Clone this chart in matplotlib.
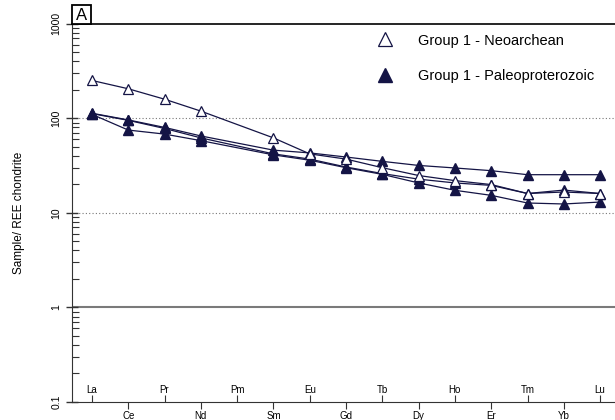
import numpy as np
import matplotlib.pyplot as plt
from matplotlib.lines import Line2D
from matplotlib.patches import Rectangle
from matplotlib.ticker import FixedLocator, LogLocator, NullFormatter
import matplotlib.transforms as mtransforms

plt.rcParams['font.family'] = ['Liberation Sans', 'DejaVu Sans']

# REE order along the x axis
elements = ['La', 'Ce', 'Pr', 'Nd', 'Pm', 'Sm', 'Eu', 'Gd', 'Tb', 'Dy', 'Ho', 'Er', 'Tm', 'Yb', 'Lu']

# chondrite-normalised values (Pm not measured)
neoarchean = [251, 205, 159, 119, None, 62, 42, 37, 30, 24.8, 21.9, 19.9, 16.0, 16.6, 16.0]
paleo_a = [113, 96, 80, 65, None, 46, 43, 38.9, 35, 31.7, 29.8, 27.9, 25.3, 25.3, 25.3]
paleo_b = [112, 95, 78, 62, None, 42, 37, 30.5, 26, 22.7, 20.7, 19.5, 16.0, 17.4, 16.0]
paleo_c = [110, 75, 68, 58, None, 41, 36, 30, 25.5, 20.7, 17.3, 15.3, 12.7, 12.4, 13.0]
paleoproterozoic = [paleo_a, paleo_b, paleo_c]

yticks = [0.1, 1, 10, 100, 1000]
ytick_labels = ['0.1', '1', '10', '100', '1000']

navy = '#141445'


def series_xy(vals):
    xs = [i + 1 for i, v in enumerate(vals) if v is not None]
    ys = [v for v in vals if v is not None]
    return xs, ys


fig = plt.figure(figsize=(6.15, 4.2), dpi=100)
ax = fig.add_axes([0.117, 0.043, 0.883, 0.9006])
ax.set_yscale('log')
ax.set_ylim(0.1, 1000)
ax.set_xlim(0.449, 15.41)

for vals in paleoproterozoic:
    xs, ys = series_xy(vals)
    ax.plot(xs, ys, '-^', color=navy, lw=0.9, markersize=6.8,
            markerfacecolor=navy, markeredgecolor=navy, zorder=3)
xs, ys = series_xy(neoarchean)
ax.plot(xs, ys, '-^', color=navy, lw=0.9, markersize=6.8,
        markerfacecolor='white', markeredgecolor=navy, markeredgewidth=0.9, zorder=4)

# reference lines
ax.axhline(1, color='#7a7a7a', lw=1.5, zorder=1)
ax.axhline(10, color='#777777', lw=0.8, ls=(0, (1, 2)), zorder=1)
ax.axhline(100, color='#777777', lw=0.8, ls=(0, (1, 2)), zorder=1)

ax.spines['right'].set_visible(False)
ax.spines['top'].set_linewidth(1.2)
ax.spines['left'].set_color('#333333')
ax.spines['bottom'].set_color('#333333')

# y axis
ax.yaxis.set_major_locator(FixedLocator(yticks))
ax.set_yticklabels(ytick_labels, rotation=90, va='center', fontsize=7.5)
ax.yaxis.set_minor_locator(LogLocator(base=10, subs=np.arange(2, 10)))
ax.yaxis.set_minor_formatter(NullFormatter())
ax.tick_params(axis='y', which='major', direction='inout', length=9, width=1, color='#333333', pad=3)
ax.tick_params(axis='y', which='minor', direction='in', length=5, width=0.8, color='#333333')
ax.set_ylabel('Sample/ REE chondrite', fontsize=8.5, labelpad=19)

# x axis: odd elements labelled inside, even elements below
pos = np.arange(1, len(elements) + 1)
ax.set_xticks(pos[1::2])
ax.set_xticklabels(elements[1::2], fontsize=7)
ax.set_xticks(pos[0::2], minor=True)
ax.tick_params(axis='x', which='major', direction='out', length=5, width=0.8, color='#333333', pad=1.5)
ax.tick_params(axis='x', which='minor', direction='in', length=5, width=0.8, color='#333333')
trans = mtransforms.blended_transform_factory(ax.transData, ax.transAxes)
for p in pos[0::2]:
    ax.text(p, 0.018, elements[p - 1], transform=trans, ha='center', va='bottom', fontsize=7)

# panel letter in a square box sitting on the top line
box_w, box_h = 19 / 543, 19 / 378
ax.add_patch(Rectangle((0.0, 1.0), box_w, box_h, transform=ax.transAxes,
                       facecolor='white', edgecolor='black', lw=1.3, clip_on=False, zorder=5))
ax.text(box_w / 2, 1.0 + box_h / 2, 'A', transform=ax.transAxes, ha='center', va='center_baseline',
        fontsize=12, zorder=6)

# legend
handles = [
    Line2D([], [], ls='none', marker='^', markersize=10, markerfacecolor='white',
           markeredgecolor=navy, markeredgewidth=0.9),
    Line2D([], [], ls='none', marker='^', markersize=10, markerfacecolor=navy,
           markeredgecolor=navy),
]
ax.legend(handles, ['Group 1 - Neoarchean', 'Group 1 - Paleoproterozoic'],
          loc='upper left', bbox_to_anchor=(0.549, 0.974), frameon=False,
          fontsize=10.5, handlelength=2, handletextpad=1.26, labelspacing=1.5,
          borderpad=0, borderaxespad=0)

fig.savefig('out.png', dpi=100)
